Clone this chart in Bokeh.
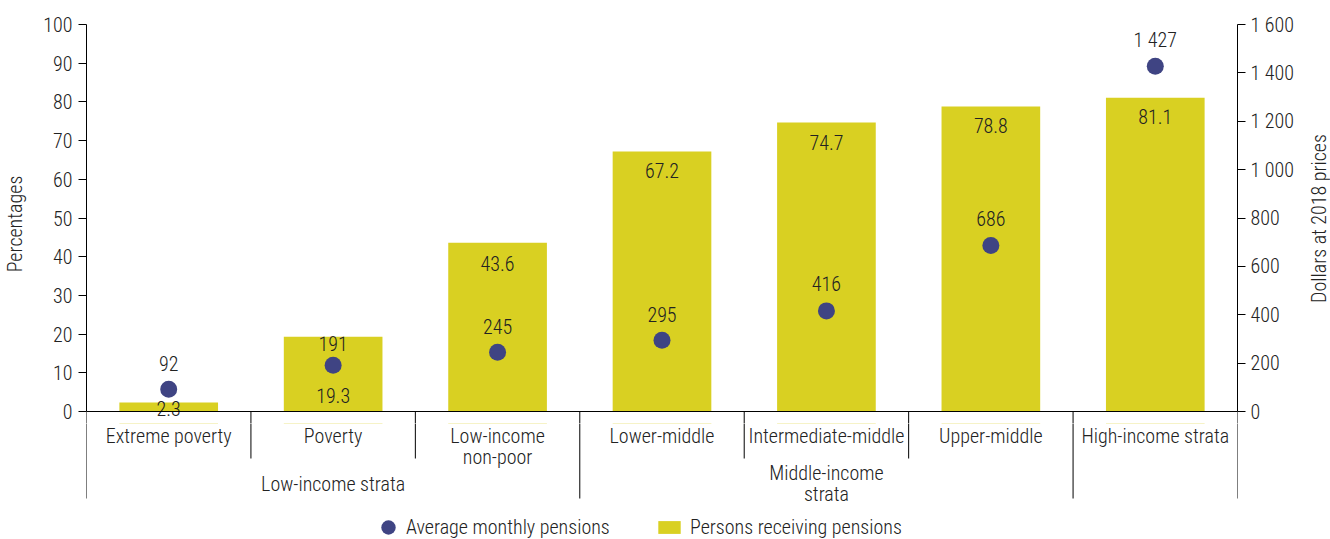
import numpy as np
from bokeh.plotting import figure
from bokeh.layouts import column, row
from bokeh.models import (ColumnDataSource, Range1d, LinearAxis, FixedTicker, Span,
                          Legend, LegendItem, CustomJSTickFormatter)
from bokeh.core.properties import value
from bokeh.embed import file_html
from bokeh.resources import INLINE

# ---------------- data ----------------
categories = ["Extreme poverty", "Poverty", "Low-income\nnon-poor", "Lower-middle",
              "Intermediate-middle", "Upper-middle", "High-income strata"]
persons_receiving = [2.3, 19.3, 43.6, 67.2, 74.7, 78.8, 81.1]      # percentages
avg_pension = [92, 191, 245, 295, 416, 686, 1427]                   # dollars at 2018 prices
groups = ["Low-income strata", "Middle-income\nstrata", ""]
group_sizes = [3, 3, 1]
left_ticks = list(range(0, 101, 10))
right_ticks = list(range(0, 1601, 200))
left_title = "Percentages"
right_title = "Dollars at 2018 prices"

# ---------------- style ----------------
FONT = "Roboto Condensed Light, Liberation Sans Narrow, Roboto Condensed, Arial Narrow, sans-serif"
FS = "20px"
TXT = "#222222"
BAR_COLOR = "#D9D022"
DOT_COLOR = "#3F4483"
bar_label_offsets = [6, 59, 21, 19, 20, 19, 19]
dot_label_offsets = [-26, -22, -26, -26, -27, -27, -26]

RIGHT_W = 30            # strip that holds the right axis title
W = 1330 - RIGHT_W      # width of main chart + category strip
BASE = 411              # pixel row of the zero line
TOP_H = 423             # main chart height (a little room below the zero line)
BOT_H = 539 - TOP_H     # category labels + legend
BL, BR = 83, 63
PX_PER_PCT = 3.87
Y_MIN = -(TOP_H - BASE) / PX_PER_PCT

def fmt(v):
    v = int(v)
    return f"{v // 1000} {v % 1000:03d}" if v >= 1000 else str(v)

n = len(categories)
xc = np.arange(n) + 0.5

src = ColumnDataSource(dict(
    x=xc, pct=persons_receiving, pen=avg_pension,
    pct_lbl=[f"{v:.1f}" for v in persons_receiving],
    pen_lbl=[fmt(v) for v in avg_pension],
    cat=categories, boff=bar_label_offsets, doff=dot_label_offsets,
))

x_range = Range1d(0, n)

def bare(fig):
    fig.xaxis.visible = False
    fig.yaxis.visible = False
    fig.xgrid.visible = False
    fig.ygrid.visible = False
    fig.left = []
    fig.below = []

# ================= main chart =================
p = figure(width=W, height=TOP_H, output_backend="svg", toolbar_location=None,
           x_range=x_range, y_range=Range1d(Y_MIN, 100),
           min_border_left=BL, min_border_right=BR, min_border_top=24, min_border_bottom=0,
           outline_line_color=None, background_fill_color="white")
bare(p)
p.extra_y_ranges = {"dollars": Range1d(Y_MIN * 16, 1600)}

def style_axis(ax):
    ax.axis_line_color = "black"
    ax.major_tick_line_color = "black"
    ax.major_tick_in = 0
    ax.major_tick_out = 8
    ax.minor_tick_line_color = None
    ax.major_label_text_font = FONT
    ax.major_label_text_font_size = FS
    ax.major_label_text_color = TXT
    ax.axis_label_text_font = FONT
    ax.axis_label_text_font_size = FS
    ax.axis_label_text_font_style = "normal"
    ax.axis_label_text_color = TXT

la = LinearAxis(ticker=FixedTicker(ticks=left_ticks), bounds=(0, 100), axis_label=left_title)
style_axis(la)
la.major_label_standoff = 6
la.axis_label_standoff = 13
p.add_layout(la, "left")

ra = LinearAxis(y_range_name="dollars", ticker=FixedTicker(ticks=right_ticks), bounds=(0, 1600),
                formatter=CustomJSTickFormatter(code="""
                    const v = Math.round(tick);
                    if (v >= 1000) { const r = String(v % 1000).padStart(3, '0'); return Math.floor(v/1000) + ' ' + r; }
                    return String(v);"""))
style_axis(ra)
ra.major_label_standoff = 5
p.add_layout(ra, "right")

bars = p.vbar(x="x", top="pct", bottom=0, width=0.6, source=src, fill_color=BAR_COLOR, line_color=None)
p.text(x="x", y="pct", text="pct_lbl", y_offset="boff", source=src, text_align="center",
       text_baseline="middle", text_font=value(FONT), text_font_size=FS, text_color=TXT)

dots = p.scatter(x="x", y="pen", y_range_name="dollars", source=src, size=17,
                 fill_color=DOT_COLOR, line_color=None)
p.text(x="x", y="pen", text="pen_lbl", y_offset="doff", y_range_name="dollars", source=src,
       text_align="center", text_baseline="middle", text_font=value(FONT), text_font_size=FS,
       text_color=TXT)

p.add_layout(Span(location=0, dimension="width", line_color="black", line_width=1))

bounds_group = np.cumsum([0] + group_sizes)
sep_x = list(range(n + 1))
p.segment(x0=sep_x, y0=[0] * len(sep_x), x1=sep_x, y1=[Y_MIN] * len(sep_x),
          line_color="black", line_width=1)

# ================= category axis + legend strip (y in px below the zero line) =================
q = figure(width=W, height=BOT_H, output_backend="svg", toolbar_location=None,
           x_range=x_range, y_range=Range1d(-(539 - BASE), -(TOP_H - BASE)),
           min_border_left=BL, min_border_right=BR, min_border_top=0, min_border_bottom=0,
           outline_line_color=None, background_fill_color="white")
bare(q)

SHORT, LONG = -47, -87
sep_y1 = [LONG if b in bounds_group else SHORT for b in sep_x]
q.segment(x0=sep_x, y0=[0] * len(sep_x), x1=sep_x, y1=sep_y1, line_color="black", line_width=1)

q.text(x="x", y=-(TOP_H - BASE) - 0.4, text="cat", source=src, text_align="center", text_baseline="top",
       text_font=value(FONT), text_font_size=FS, text_color=TXT, text_line_height=0.9)

gx = [(bounds_group[i] + bounds_group[i + 1]) / 2 for i in range(len(groups))]
q.text(x=gx, y=[-72] * len(gx), text=groups, text_align="center", text_baseline="middle",
       text_font=value(FONT), text_font_size=FS, text_color=TXT, text_line_height=0.9)

# legend: proxy renderers sharing the chart's data and styles; their marks lie outside this strip
ldot = q.scatter(x="x", y="pen", source=src, size=17, fill_color=DOT_COLOR, line_color=None)
lbar = q.vbar(x="x", top="pct", bottom="pct", source=src, width=0.6, fill_color=BAR_COLOR, line_color=None)
leg_common = dict(orientation="horizontal", padding=0, margin=0,
                  label_text_font=FONT, label_text_font_size=FS, label_text_color=TXT,
                  border_line_color=None, background_fill_alpha=0)
leg1 = Legend(items=[LegendItem(label="Average monthly pensions", renderers=[ldot])],
              location=(284, -6), glyph_width=36, glyph_height=36, label_standoff=-4, **leg_common)
leg2 = Legend(items=[LegendItem(label="Persons receiving pensions", renderers=[lbar])],
              location=(569, 0), glyph_width=28, glyph_height=16, label_standoff=7, **leg_common)
q.add_layout(leg1, "center")
q.add_layout(leg2, "center")

# ================= right axis title strip (pixel coordinates) =================
r = figure(width=RIGHT_W, height=539, output_backend="svg", toolbar_location=None,
           x_range=Range1d(0, RIGHT_W), y_range=Range1d(539, 0),
           min_border=0, outline_line_color=None, background_fill_color="white")
bare(r)
r.text(x=[18], y=[218], text=[right_title], angle=np.pi / 2, text_align="center",
       text_baseline="middle", text_font=value(FONT), text_font_size=FS, text_color=TXT)

layout = row(column(p, q, spacing=0), r, spacing=0)
open("out.html", "w").write(file_html(layout, INLINE))
